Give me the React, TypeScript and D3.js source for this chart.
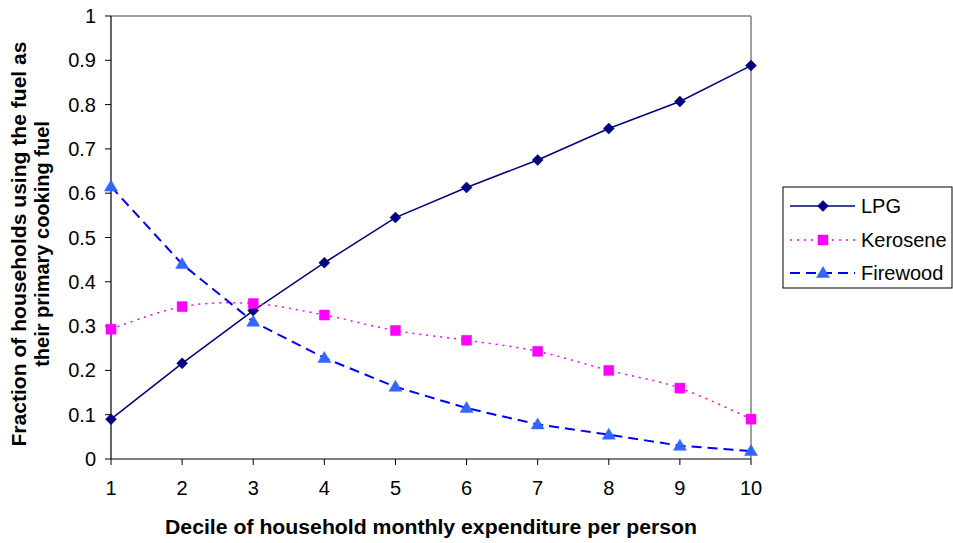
import React from "react";
import * as d3 from "d3";

const deciles = [1, 2, 3, 4, 5, 6, 7, 8, 9, 10];
const lpg = [0.09, 0.216, 0.335, 0.443, 0.545, 0.613, 0.675, 0.746, 0.807, 0.888];
const kerosene = [0.293, 0.344, 0.351, 0.325, 0.29, 0.268, 0.243, 0.2, 0.16, 0.09];
const firewood = [0.615, 0.44, 0.31, 0.228, 0.163, 0.115, 0.078, 0.055, 0.03, 0.018];
const yTicks = [0, 0.1, 0.2, 0.3, 0.4, 0.5, 0.6, 0.7, 0.8, 0.9, 1];
const yTickLabels = ["0", "0.1", "0.2", "0.3", "0.4", "0.5", "0.6", "0.7", "0.8", "0.9", "1"];
const seriesNames = ["LPG", "Kerosene", "Firewood"];

const W = 953, H = 543;
const L = 111, R = 751, T = 16, B = 459;
const font = "Arial, 'Liberation Sans', sans-serif";

export default function App() {
  const x = d3.scaleLinear().domain([1, 10]).range([L, R]);
  const y = d3.scaleLinear().domain([0, 1]).range([B, T]);
  const straight = d3
    .line<number>()
    .x((_, i) => x(deciles[i]))
    .y((d) => y(d));
  const smooth = d3
    .line<number>()
    .x((_, i) => x(deciles[i]))
    .y((d) => y(d))
    .curve(d3.curveCatmullRom.alpha(0));

  const series = [
    { name: seriesNames[0], data: lpg, stroke: "#000080", width: 1.5, dash: undefined as string | undefined, marker: "diamond", fill: "#000080", gen: straight },
    { name: seriesNames[1], data: kerosene, stroke: "#FF00FF", width: 1.5, dash: "2,5", marker: "square", fill: "#FF00FF", gen: smooth },
    { name: seriesNames[2], data: firewood, stroke: "#0000FF", width: 2, dash: "10,6", marker: "triangle", fill: "#3366FF", gen: straight },
  ];

  const markerPath = (m: string, cx: number, cy: number) => {
    if (m === "diamond") return `M${cx},${cy - 5.5}L${cx + 5.5},${cy}L${cx},${cy + 5.5}L${cx - 5.5},${cy}Z`;
    if (m === "square") return `M${cx - 5},${cy - 5}h10v10h-10Z`;
    return `M${cx},${cy - 6.5}L${cx + 6.5},${cy + 4.5}L${cx - 6.5},${cy + 4.5}Z`;
  };

  const legendX = 783, legendY = 187, legendW = 169, legendH = 101;
  const legendRows = [206, 240, 273];

  return (
    <svg width={W} height={H} style={{ position: "absolute", left: 0, top: 0, background: "#fff" }} fontFamily={font}>
      <rect x={0} y={0} width={W} height={H} fill="#fff" />
      <line x1={L} y1={T} x2={R} y2={T} stroke="#808080" strokeWidth={1.5} />
      <line x1={R} y1={T} x2={R} y2={B} stroke="#808080" strokeWidth={1.5} />
      <line x1={L} y1={T} x2={L} y2={B} stroke="#000" strokeWidth={1.2} />
      <line x1={L} y1={B} x2={R} y2={B} stroke="#000" strokeWidth={1.2} />
      {yTicks.map((t, i) => (
        <g key={"y" + i}>
          <line x1={L - 6} x2={L} y1={y(t)} y2={y(t)} stroke="#000" />
          <text x={L - 15} y={y(t) + 7} textAnchor="end" fontSize={20}>
            {yTickLabels[i]}
          </text>
        </g>
      ))}
      {deciles.map((d) => (
        <g key={"x" + d}>
          <line x1={x(d)} x2={x(d)} y1={B} y2={B + 6} stroke="#000" />
          <text x={x(d)} y={B + 36} textAnchor="middle" fontSize={20}>
            {d}
          </text>
        </g>
      ))}
      {series.map((s) => (
        <g key={s.name}>
          <path d={s.gen(s.data) || ""} fill="none" stroke={s.stroke} strokeWidth={s.width} strokeDasharray={s.dash} />
          {s.data.map((v, i) => (
            <path key={i} d={markerPath(s.marker, x(deciles[i]), y(v))} fill={s.fill} stroke={s.fill} strokeWidth={0.5} />
          ))}
        </g>
      ))}
      <text x={431} y={534} textAnchor="middle" fontSize={20} fontWeight="bold" textLength={532} lengthAdjust="spacingAndGlyphs">
        Decile of household monthly expenditure per person
      </text>
      <g transform="translate(0,244) rotate(-90)">
        <text x={0} y={26} textAnchor="middle" fontSize={20} fontWeight="bold" textLength={405} lengthAdjust="spacingAndGlyphs">
          Fraction of households using the fuel as
        </text>
        <text x={0} y={49} textAnchor="middle" fontSize={20} fontWeight="bold">
          their primary cooking fuel
        </text>
      </g>
      <rect x={legendX} y={legendY} width={legendW} height={legendH} fill="#fff" stroke="#000" strokeWidth={1} />
      {series.map((s, i) => (
        <g key={"lg" + s.name}>
          <line x1={790} x2={855} y1={legendRows[i]} y2={legendRows[i]} stroke={s.stroke} strokeWidth={s.width} strokeDasharray={s.dash} />
          <path d={markerPath(s.marker, 823, legendRows[i])} fill={s.fill} stroke={s.fill} strokeWidth={0.5} />
          <text x={861} y={legendRows[i] + 7} fontSize={20}>
            {s.name}
          </text>
        </g>
      ))}
    </svg>
  );
}
